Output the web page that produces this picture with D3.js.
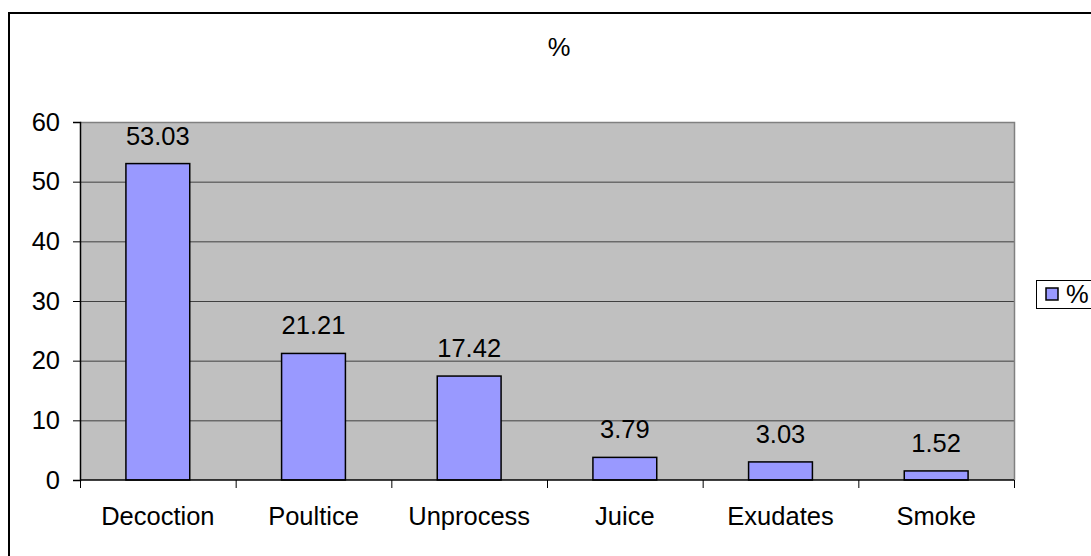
<!DOCTYPE html>
<html>
<head>
<meta charset="utf-8">
<script src="https://cdn.jsdelivr.net/npm/d3@7"></script>
<style>
  body { margin: 0; background: #fff; }
  svg { display: block; font-family: "Liberation Sans", Arial, sans-serif; }
</style>
</head>
<body>
<div id="chart"></div>
<script>
// DATA //
const categories = ["Decoction", "Poultice", "Unprocess", "Juice", "Exudates", "Smoke"];
const values = [53.03, 21.21, 17.42, 3.79, 3.03, 1.52];
const yTicks = [0, 10, 20, 30, 40, 50, 60];
const seriesName = "%";

// DIMENSIONS //
const W = 1091, H = 556;
const plot = {left: 80, right: 1014, top: 122, bottom: 480};
const fs = 25.5;

const svg = d3.select("#chart").append("svg")
    .attr("width", W)
    .attr("height", H);

// outer chart frame (runs past the right and bottom edges)
svg.append("rect")
    .attr("x", 9).attr("y", 13)
    .attr("width", 1120).attr("height", 600)
    .attr("fill", "#fff")
    .attr("stroke", "#000")
    .attr("stroke-width", 2);

// title
svg.append("text")
    .attr("x", 559).attr("y", 56)
    .attr("text-anchor", "middle")
    .attr("font-size", fs)
    .text(seriesName);

// SCALES //
const x = d3.scaleBand()
    .domain(categories)
    .range([plot.left, plot.right])
    .paddingInner(0.59)
    .paddingOuter(0.295);

const xCat = d3.scaleBand()
    .domain(categories)
    .range([plot.left, plot.right]);

const y = d3.scaleLinear()
    .domain([0, 60])
    .range([plot.bottom, plot.top]);

// plot background
svg.append("rect")
    .attr("x", plot.left).attr("y", plot.top)
    .attr("width", plot.right - plot.left)
    .attr("height", plot.bottom - plot.top)
    .attr("fill", "#c0c0c0");

// gridlines
svg.append("g")
    .selectAll("line")
    .data(yTicks.filter(d => d > 0))
    .join("line")
    .attr("x1", plot.left).attr("x2", plot.right)
    .attr("y1", d => y(d) + 0.5).attr("y2", d => y(d) + 0.5)
    .attr("stroke", "#404040")
    .attr("stroke-width", 1);

// plot border top/right in grey
svg.append("path")
    .attr("d", `M${plot.left},${plot.top + 0.5}H${plot.right + 0.5}V${plot.bottom}`)
    .attr("fill", "none")
    .attr("stroke", "#808080")
    .attr("stroke-width", 1.5);

// bars
svg.append("g")
    .selectAll("rect")
    .data(values)
    .join("rect")
    .attr("x", (d, i) => x(categories[i]))
    .attr("y", d => y(d))
    .attr("width", x.bandwidth())
    .attr("height", d => y(0) - y(d))
    .attr("fill", "#9999ff")
    .attr("stroke", "#000")
    .attr("stroke-width", 1.5);

// value labels
svg.append("g")
    .selectAll("text")
    .data(values)
    .join("text")
    .attr("x", (d, i) => x(categories[i]) + x.bandwidth() / 2)
    .attr("y", d => y(d) - 19)
    .attr("text-anchor", "middle")
    .attr("font-size", fs)
    .text(d => d.toFixed(2));

// Y AXIS //
const yAxis = svg.append("g")
    .attr("transform", `translate(${plot.left},0)`)
    .call(d3.axisLeft(y).tickValues(yTicks).tickSize(7).tickPadding(13));
yAxis.select(".domain").attr("stroke", "#000").attr("stroke-width", 1.5);
yAxis.selectAll(".tick line").attr("stroke", "#000");
yAxis.selectAll(".tick text")
    .attr("font-size", fs)
    .attr("font-family", "Liberation Sans, Arial, sans-serif")
    .attr("fill", "#000");

// X AXIS //
const boundaries = categories.map(c => xCat(c)).concat([plot.right]);
svg.append("line")
    .attr("x1", plot.left).attr("x2", plot.right)
    .attr("y1", plot.bottom).attr("y2", plot.bottom)
    .attr("stroke", "#000").attr("stroke-width", 1.5);
svg.append("g")
    .selectAll("line")
    .data(boundaries)
    .join("line")
    .attr("x1", d => d + 0.5).attr("x2", d => d + 0.5)
    .attr("y1", plot.bottom).attr("y2", plot.bottom + 8)
    .attr("stroke", "#000");
svg.append("g")
    .selectAll("text")
    .data(categories)
    .join("text")
    .attr("x", d => xCat(d) + xCat.bandwidth() / 2)
    .attr("y", 525)
    .attr("text-anchor", "middle")
    .attr("font-size", fs)
    .text(d => d);

// LEGEND //
const legend = svg.append("g").attr("transform", "translate(1036,280)");
legend.append("rect")
    .attr("x", 0.5).attr("y", 0.5)
    .attr("width", 90).attr("height", 28)
    .attr("fill", "#fff")
    .attr("stroke", "#000");
legend.append("rect")
    .attr("x", 10).attr("y", 8)
    .attr("width", 12).attr("height", 12)
    .attr("fill", "#9999ff")
    .attr("stroke", "#000")
    .attr("stroke-width", 1.5);
legend.append("text")
    .attr("x", 30).attr("y", 23)
    .attr("font-size", fs)
    .text(seriesName);
</script>
</body>
</html>
